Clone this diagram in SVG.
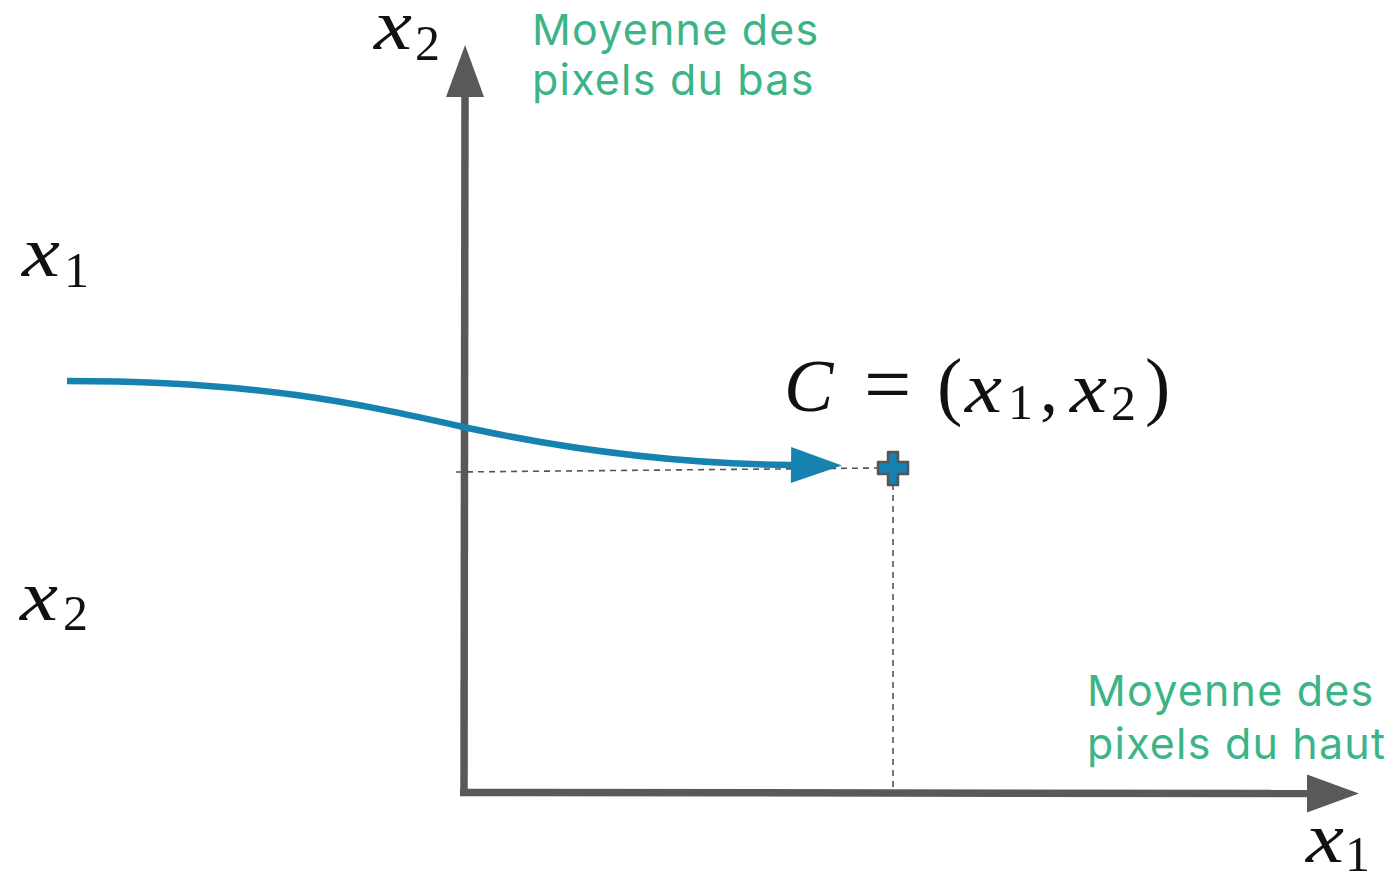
<svg xmlns="http://www.w3.org/2000/svg" width="1396" height="874" viewBox="0 0 1396 874">
<style>
.m{font-family:"Liberation Serif","DejaVu Serif",serif;fill:#111;}
.i{font-style:italic;}
.s{font-size:50px;}
.g{font-family:Inter,"Noto Sans",sans-serif;font-size:43px;letter-spacing:1.2px;fill:#3DB488;}
.axis{stroke:#595959;stroke-width:7.5;fill:none;}
.dash{stroke:#555;stroke-width:1.6;stroke-dasharray:6 5;fill:none;}
</style>
<defs>
<marker id="ah" markerUnits="userSpaceOnUse" markerWidth="60" markerHeight="60" refX="0" refY="0" viewBox="-2 -25 60 50" orient="auto">
<path d="M0,-19 L52,0 L0,19 Z" fill="#595959"/>
</marker>
<marker id="bh" markerUnits="userSpaceOnUse" markerWidth="60" markerHeight="60" refX="0" refY="0" viewBox="-2 -25 60 50" orient="auto">
<path d="M0,-18 L51,0 L0,18 Z" fill="#1582AF"/>
</marker>
</defs>
<g id="connectors">
<path class="dash" d="M456,472 L880,468"/>
<path class="dash" d="M893,484 L893,790"/>
<path id="y-axis" class="axis" d="M464,795 L465,97" marker-end="url(#ah)"/>
<path id="x-axis" class="axis" d="M460,792.5 L1307,793.5" marker-end="url(#ah)"/>
<path id="flow" d="M67,381 C260,381 360,404 468,428 C580,452 690,464 791,465" stroke="#1582AF" stroke-width="6.5" fill="none" marker-end="url(#bh)"/>
</g>
<g id="point-C">
<path d="M888,452 h10 v10 h10 v12 h-10 v11 h-10 v-11 h-10 v-12 h10 Z" fill="#1582AF" stroke="#555" stroke-width="2.5" stroke-linejoin="round"/>
</g>
<g id="label-x2-top">
<text class="m i" x="374" y="49" font-size="72" textLength="38" lengthAdjust="spacingAndGlyphs">x</text>
<text class="m s" x="415" y="60">2</text>
</g>
<g id="label-x1-left">
<text class="m i" x="22" y="276" font-size="72" textLength="38" lengthAdjust="spacingAndGlyphs">x</text>
<text class="m s" x="64" y="287">1</text>
</g>
<g id="label-x2-left">
<text class="m i" x="20" y="620" font-size="72" textLength="38" lengthAdjust="spacingAndGlyphs">x</text>
<text class="m s" x="63" y="630">2</text>
</g>
<g id="label-x1-bottom">
<text class="m i" x="1306" y="862" font-size="72" textLength="38" lengthAdjust="spacingAndGlyphs">x</text>
<text class="m s" x="1345" y="871">1</text>
</g>
<g id="label-C">
<text class="m i" x="784" y="411" font-size="74">C</text>
<text class="m" x="864" y="413" font-size="84">=</text>
<text class="m" x="937" y="411" font-size="76">(</text>
<text class="m i" x="965" y="412" font-size="72" textLength="37" lengthAdjust="spacingAndGlyphs">x</text>
<text class="m s" x="1008" y="419">1</text>
<text class="m" x="1040" y="411" font-size="72">,</text>
<text class="m i" x="1070" y="412" font-size="72" textLength="37" lengthAdjust="spacingAndGlyphs">x</text>
<text class="m s" x="1111" y="420">2</text>
<text class="m" x="1145" y="411" font-size="76">)</text>
</g>
<g id="label-top-green">
<text class="g" x="532" y="45">Moyenne des</text>
<text class="g" x="532" y="95">pixels du bas</text>
</g>
<g id="label-right-green">
<text class="g" x="1087" y="706">Moyenne des</text>
<text class="g" x="1087" y="759">pixels du haut</text>
</g>
</svg>
